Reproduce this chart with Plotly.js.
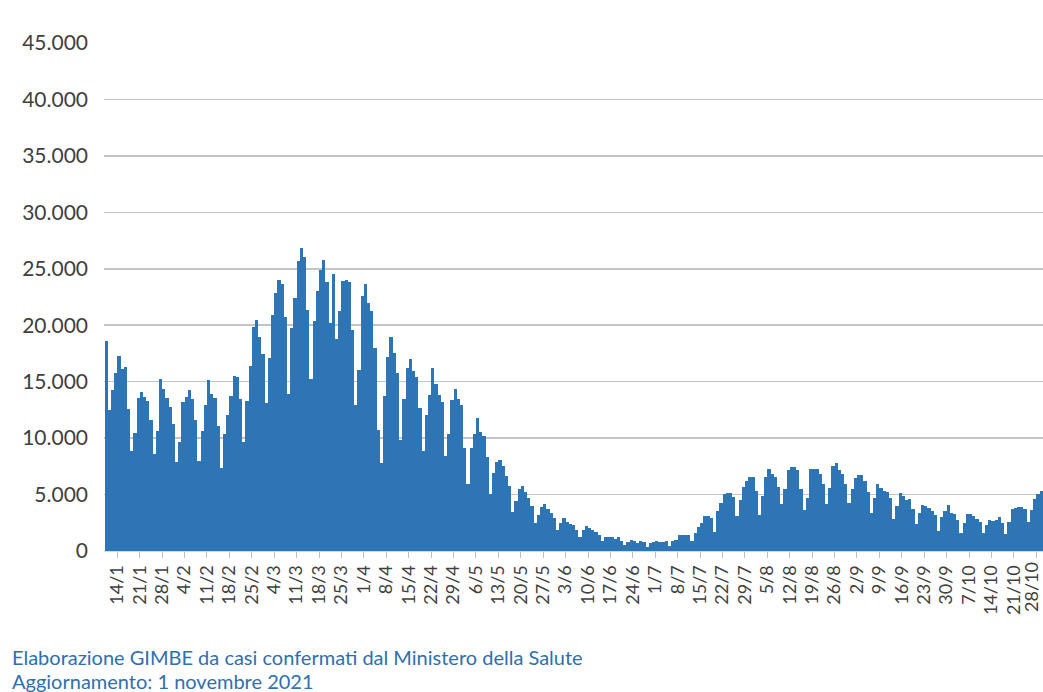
<!DOCTYPE html>
<html>
<head>
<meta charset="utf-8">
<script src="https://cdn.plot.ly/plotly-3.0.1.min.js"></script>
<style>
html,body{margin:0;padding:0;background:#fff;}
#chart{width:1043px;height:692px;}
</style>
</head>
<body>
<div id="chart"></div>
<script>
// Daily new confirmed cases, Italy, 10 Jan 2021 - 31 Oct 2021
const firstDay = [2021, 0, 10];
const jan = [18627,12532,14242,15774,17246,16146,16310,12545,8824,10497,13571,14078,13633,13331,11629,8561,10593,15204,14372,13574,12715,11252];
const feb = [7925,9660,13189,13659,14218,13442,11641,7970,10630,12956,15146,13908,13532,11068,7351,10386,12074,13762,15479,15370,13452,9630,13314,16424,19886,20499,18916,17455];
const mar = [13114,17083,20884,22865,24036,23641,20765,13902,19749,22409,25673,26824,26062,21315,15267,20396,23059,24935,25735,23832,20159,24500,18765,21267,23900,23985,23839,19611,12916,16017,22550];
const apr = [23649,21932,21261,18025,10680,7767,13708,17221,18938,17567,15746,9789,13447,16168,16974,15943,15370,12694,8864,12074,13844,16232,14761,13817,13158,8444,10404,13385,14320,13446];
const may = [12965,9148,5948,9116,10404,11807,10554,10176,8292,5080,6946,7852,8085,7567,6659,5753,3455,4452,5506,5741,5218,4717,3995,2490,3224,3937,4147,3738,3351,2949,1820];
const jun = [2483,2897,2557,2436,2275,1894,1273,1896,2199,2079,1901,1723,1390,907,1255,1199,1197,1058,1197,876,495,835,951,927,753,887,778,389,679,776];
const jul = [882,794,808,907,480,855,1010,1394,1390,1400,1391,888,1553,2153,2455,3127,3121,2898,1700,3558,4259,5057,5143,5140,4794,3117,4522,5696,6171,6513,6599];
const aug = [5321,3190,4845,6596,7230,6837,6599,5664,4197,5498,7162,7409,7426,7188,5457,3668,4698,7260,7260,7224,6860,5922,4168,5559,7548,7826,7161,6860,5959,4257,5498];
const sep = [6503,6761,6735,6157,5193,3361,4720,5923,5603,5315,5193,4664,2800,4021,5117,4830,4552,4578,3719,2407,3377,4061,3970,3797,3525,3212,1781,2985,3500,4050];
const oct = [3405,3312,2743,1612,2466,3235,3300,3080,2870,2600,1597,2278,2772,2668,2732,2983,2437,1500,2535,3702,3794,3882,3908,3725,2535,3598,4598,5080,5335,5007,4058];
const yTickVals = [0,5000,10000,15000,20000,25000,30000,35000,40000,45000];
const firstTickDate = '2021-01-14';
const lastTickLabel = '28/10';
const footLine1 = 'Elaborazione GIMBE da casi confermati dal Ministero della Salute';
const footLine2 = 'Aggiornamento: 1 novembre 2021';

const values = [].concat(jan, feb, mar, apr, may, jun, jul, aug, sep, oct);
const DAY = 86400000;
const t0 = Date.UTC(firstDay[0], firstDay[1], firstDay[2]);
function fmt(ms){ return new Date(ms).toISOString().replace('T',' ').replace('Z',''); }
const dates = values.map((v,i) => fmt(t0 + i*DAY + DAY/2));

const ML = 104, W = 1043, PH = 508, pxPerDay = 3.202;
const xStart = t0 - 0.16*DAY;
const xEnd = xStart + (W - ML)/pxPerDay*DAY;

const textFont = 'Lato, "Open Sans", sans-serif';
const tickFont = {family: textFont, size: 18, color: '#404040'};

const trace = {
  type: 'bar',
  x: dates,
  y: values,
  marker: {color: '#2E75B6', line: {width: 0}},
  hoverinfo: 'x+y'
};

const layout = {
  width: 1043, height: 692,
  margin: {l: ML, r: 0, t: 43, b: 141, pad: 0},
  paper_bgcolor: '#ffffff',
  plot_bgcolor: '#ffffff',
  separators: ',.',
  bargap: 0,
  showlegend: false,
  font: {family: textFont, color: '#404040'},
  xaxis: {
    type: 'date',
    range: [fmt(xStart), fmt(xEnd)],
    tick0: firstTickDate,
    dtick: 7*DAY,
    tickformat: '%-d/%-m',
    tickangle: -90,
    tickfont: tickFont,
    ticks: 'outside',
    ticklen: 6,
    tickwidth: 1,
    tickcolor: '#BFBFBF',
    showgrid: false,
    showline: true,
    linecolor: '#D9D9D9',
    linewidth: 1,
    zeroline: false,
    fixedrange: true
  },
  yaxis: {
    range: [0, 45000],
    tickvals: yTickVals,
    tickformat: ',.0f',
    tickfont: {family: textFont, size: 21, color: '#404040'},
    ticks: '',
    ticklabelstandoff: 15,
    showgrid: true,
    gridcolor: '#C4C4C4',
    gridwidth: 1.5,
    zeroline: false,
    showline: false,
    fixedrange: true
  },
  annotations: [
    {text: lastTickLabel, xref: 'paper', yref: 'paper', x: 1, y: -10/PH,
     textangle: -90, xanchor: 'right', yanchor: 'top', showarrow: false,
     borderpad: 0, font: tickFont},
    {text: footLine1, xref: 'paper', yref: 'paper', x: (10-ML)/(W-ML), y: (551-643)/PH,
     xanchor: 'left', yanchor: 'top', showarrow: false,
     font: {family: textFont, size: 20, color: '#2F6FAE'}},
    {text: footLine2, xref: 'paper', yref: 'paper', x: (10-ML)/(W-ML), y: (551-667)/PH,
     xanchor: 'left', yanchor: 'top', showarrow: false,
     font: {family: textFont, size: 20, color: '#2F6FAE'}}
  ]
};

Plotly.newPlot('chart', [trace], layout, {displayModeBar: false, staticPlot: true});
</script>
</body>
</html>
